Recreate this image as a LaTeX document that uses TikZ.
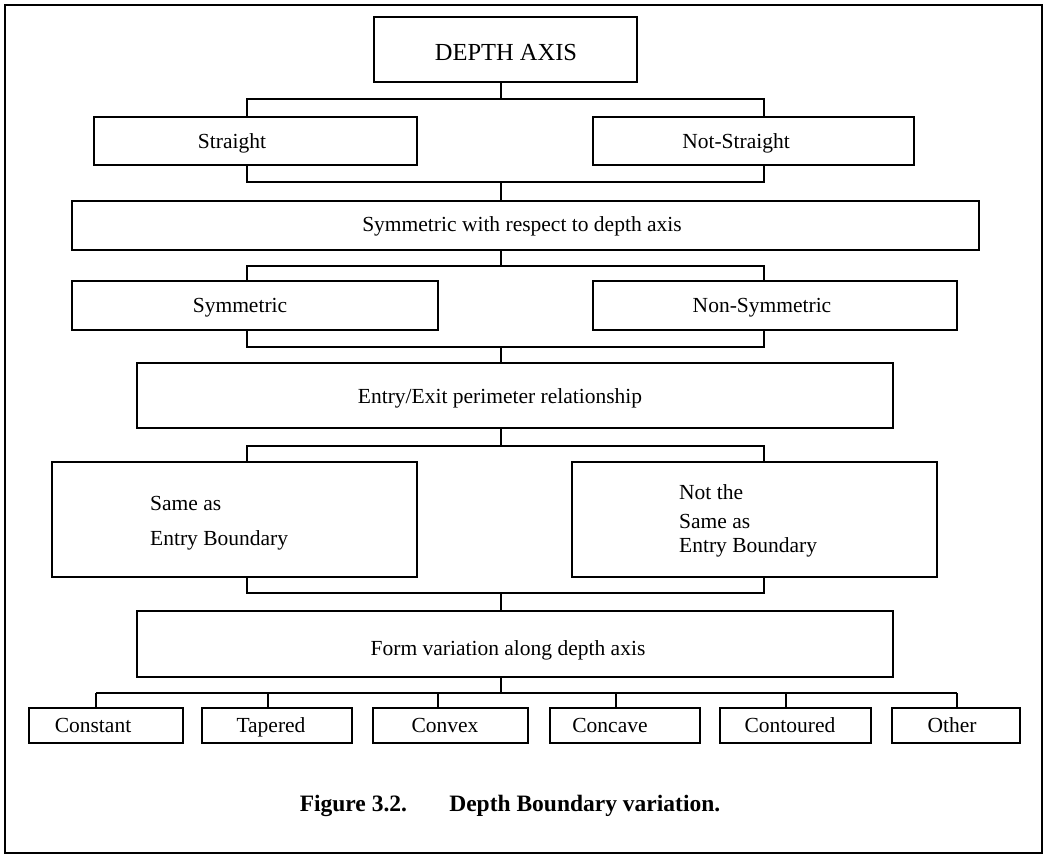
\documentclass[tikz,border=0pt]{standalone}
\usepackage{fontspec}
\setmainfont{Liberation Serif}
\usetikzlibrary{backgrounds}
\begin{document}
\begin{tikzpicture}[x=1pt,y=-1pt,
  box/.style={draw, line width=2.9pt, fill=white, inner sep=0pt},
  link/.style={draw, line width=1.2pt},
  txt/.style={inner sep=0pt, font=\fontsize{21.5}{24}\selectfont, anchor=base},
  ltxt/.style={txt, anchor=base west},
  bigtxt/.style={txt, font=\fontsize{24.5}{28}\selectfont},
  captxt/.style={txt, font=\fontsize{23.5}{26}\selectfont\bfseries}]
\useasboundingbox (0,0) rectangle (1052,857);
\draw[line width=2pt] (5,5) rectangle (1042,853);

% boxes, given by their corners
\newcommand{\boxat}[5]{\node[box, minimum width={#4-#2}, minimum height={#5-#3}] (#1) at ({(#2+#4)/2},{(#3+#5)/2}) {};}
\boxat{axis}{374}{17}{637}{82}
\boxat{straight}{94}{117}{417}{165}
\boxat{notstraight}{593}{117}{914}{165}
\boxat{symaxis}{72}{201}{979}{250}
\boxat{sym}{72}{281}{438}{330}
\boxat{nonsym}{593}{281}{957}{330}
\boxat{perim}{137}{363}{893}{428}
\boxat{same}{52}{462}{417}{577}
\boxat{notsame}{572}{462}{937}{577}
\boxat{form}{137}{611}{893}{677}
\boxat{constant}{29}{708}{183}{743}
\boxat{tapered}{202}{708}{352}{743}
\boxat{convex}{373}{708}{528}{743}
\boxat{concave}{550}{708}{700}{743}
\boxat{contoured}{720}{708}{871}{743}
\boxat{other}{892}{708}{1020}{743}

% connectors behind the boxes
\begin{scope}[on background layer]
  % two-way branches: parent, split, children, join, next parent
  \coordinate (s1) at (501,99);  \coordinate (j1) at (501,182);
  \coordinate (s2) at (501,266); \coordinate (j2) at (501,347);
  \coordinate (s3) at (501,446); \coordinate (j3) at (501,593);
  \draw[link] (axis.south -| s1) -- (s1);
  \draw[link] (s1) -| (247,182) -- (j1);
  \draw[link] (s1) -| (764,182) -- (j1);
  \draw[link] (j1) -- (symaxis.north -| j1);
  \draw[link] (symaxis.south -| s2) -- (s2);
  \draw[link] (s2) -| (247,347) -- (j2);
  \draw[link] (s2) -| (764,347) -- (j2);
  \draw[link] (j2) -- (perim.north -| j2);
  \draw[link] (perim.south -| s3) -- (s3);
  \draw[link] (s3) -| (247,593) -- (j3);
  \draw[link] (s3) -| (764,593) -- (j3);
  \draw[link] (j3) -- (form.north -| j3);
  % six-way fan at the bottom
  \coordinate (f) at (501,693);
  \draw[link] (form.south -| f) -- (f);
  \draw[link] (96,693) -- (957,693);
  \foreach \n/\x in {constant/96, tapered/268, convex/438, concave/616, contoured/786, other/957}
    \draw[link] (\x,693) -- (\n.north -| \x,0);
\end{scope}

% texts
\node[bigtxt] (taxis) at (506,60) {DEPTH AXIS};
\node[txt] (tstraight) at (232,148) {Straight};
\node[txt] (tnotstraight) at (736,148) {Not-Straight};
\node[txt] (tsymaxis) at (522,231) {Symmetric with respect to depth axis};
\node[txt] (tsym) at (240,312) {Symmetric};
\node[txt] (tnonsym) at (762,312) {Non-Symmetric};
\node[txt] (tperim) at (500,403) {Entry/Exit perimeter relationship};
\node[ltxt] (tsame1) at (150,510) {Same as};
\node[ltxt] (tsame2) at (150,545) {Entry Boundary};
\node[ltxt] (tnot1) at (679,499) {Not the};
\node[ltxt] (tnot2) at (679,528) {Same as};
\node[ltxt] (tnot3) at (679,552) {Entry Boundary};
\node[txt] (tform) at (508,655) {Form variation along depth axis};
\node[txt] (tconstant) at (93,732) {Constant};
\node[txt] (ttapered) at (271,732) {Tapered};
\node[txt] (tconvex) at (445,732) {Convex};
\node[txt] (tconcave) at (610,732) {Concave};
\node[txt] (tcontoured) at (790,732) {Contoured};
\node[txt] (tother) at (952,732) {Other};
\node[captxt] (caption) at (510,811) {Figure 3.2.\hspace{1.8em}Depth Boundary variation.};
\end{tikzpicture}
\end{document}
